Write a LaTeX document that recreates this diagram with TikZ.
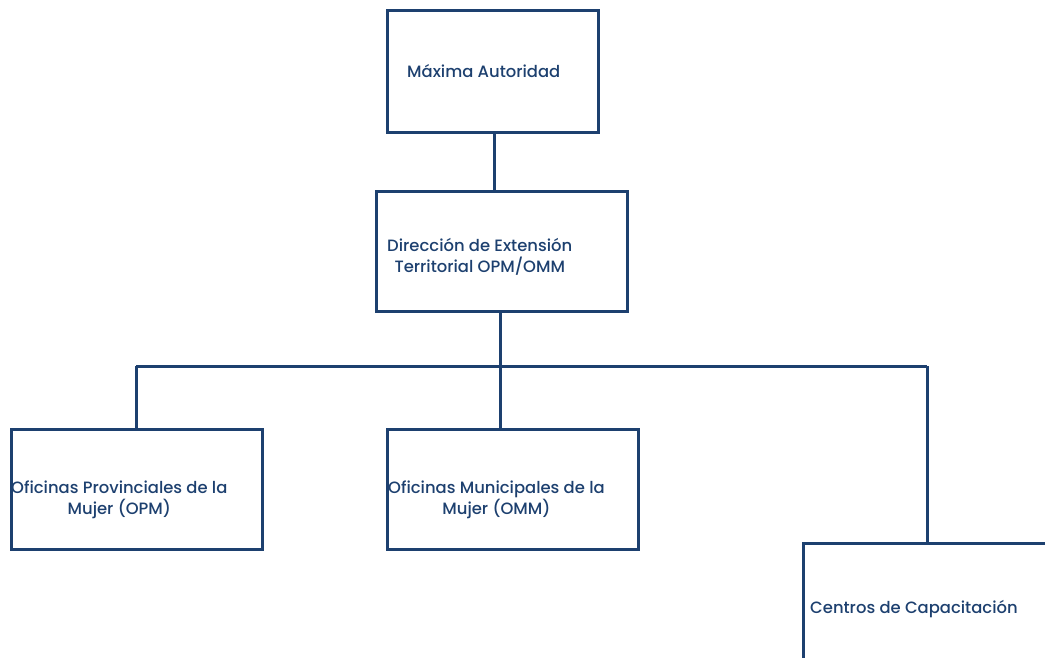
\documentclass[tikz,border=0pt]{standalone}
\usepackage{fontspec}
\setmainfont{Poppins Medium}
\definecolor{navy}{HTML}{1D406F}
\begin{document}
\begin{tikzpicture}[x=1pt,y=-1pt,
  box/.style={draw=navy, line width=3pt, rectangle, inner sep=0pt, anchor=north west},
  lbl/.style={text=navy, font=\fontsize{16.4}{21}\selectfont, align=center, inner sep=0pt, anchor=west},
  link/.style={draw=navy, line width=3pt}]
\useasboundingbox (0,0) rectangle (1045,658);
\clip (0,0) rectangle (1045,658);
% boxes
\node[box, minimum width=211, minimum height=122] (b1) at (386,9) {};
\node[box, minimum width=251, minimum height=120] (b2) at (375,190) {};
\node[box, minimum width=251, minimum height=120] (b3) at (10,428) {};
\node[box, minimum width=251, minimum height=120] (b4) at (386,428) {};
\node[box, minimum width=260, minimum height=130] (b5) at (802,542) {};
% labels
\node[lbl] (t1) at (407,71) {Máxima Autoridad};
\node[lbl] (t2) at (387,257) {Dirección de Extensión\\Territorial OPM/OMM};
\node[lbl] (t3) at (11,500) {Oficinas Provinciales de la\\Mujer (OPM)};
\node[lbl] (t4) at (388,500) {Oficinas Municipales de la\\Mujer (OMM)};
\node[lbl] (t5) at (810,609) {Centros de Capacitación};
% connectors
\coordinate (j) at (500,366);
\draw[link] (b1.south -| 494,0) -- (b2.north -| 494,0);
\draw[link] (b2.south -| j) -- (j);
\draw[link] (j -| b3.north) ++(-1,0) coordinate (jl) -- (jl |- b3.north);
\draw[link] (jl) -- (927,366) coordinate (jr);
\draw[link] (j) -- (j |- b4.north);
\draw[link] (jr) -- (jr |- b5.north);
\end{tikzpicture}
\end{document}
